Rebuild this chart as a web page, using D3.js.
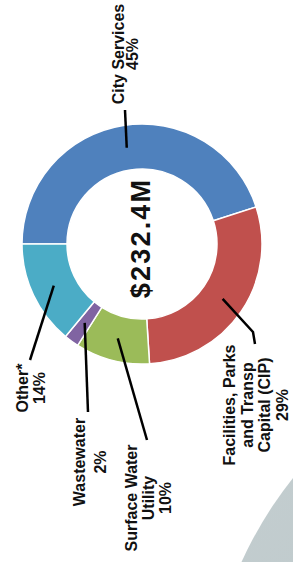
<!DOCTYPE html>
<html>
<head>
<meta charset="utf-8">
<script src="https://cdn.jsdelivr.net/npm/d3@7"></script>
<style>
  html, body { margin: 0; padding: 0; background: #ffffff; }
  svg { display: block; }
</style>
</head>
<body>
<div id="chart"></div>
<script>
// ---- data ----
const categories = ["City Services", "Facilities, Parks and Transp Capital (CIP)", "Surface Water Utility", "Wastewater", "Other*"];
const values = [45, 29, 10, 2, 14];
const nameLines = [["City Services"], ["Facilities, Parks", "and Transp", "Capital (CIP)"], ["Surface Water", "Utility"], ["Wastewater"], ["Other*"]];
const colors = ["#4f81bd", "#c0504d", "#9bbb59", "#8064a2", "#4bacc6"];
const totalLabel = "$232.4M";

// ---- layout ----
const W = 293, H = 562;
const cx = 142, cy = 244, R = 120, r0 = 75;

// label placement (relative to donut centre, screen coords)
const labelLayout = [
  { leader: [[-17, -134]], tx: -18, ty: -190, gap: 14 },
  { leader: [[111, 88], [113, 100]], tx: 93, ty: 161, gap: 17.7 },
  { leader: [[5, 196]], tx: -5, ty: 254, gap: 17 },
  { leader: [[-54, 168]], tx: -57, ty: 218, gap: 21 },
  { leader: [[-112, 116]], tx: -114, ty: 144, gap: 17 }
];

const svg = d3.select("#chart").append("svg")
  .attr("width", W).attr("height", H)
  .attr("viewBox", `0 0 ${W} ${H}`);

// background decoration
const defs = svg.append("defs");
const g1 = defs.append("linearGradient").attr("id", "bgGrad")
  .attr("x1", "0").attr("y1", "0").attr("x2", "1").attr("y2", "1");
g1.append("stop").attr("offset", "0").attr("stop-color", "#c5cfd1");
g1.append("stop").attr("offset", "1").attr("stop-color", "#b1bec0");
const g2 = defs.append("linearGradient").attr("id", "bgGrad2")
  .attr("x1", "0").attr("y1", "0").attr("x2", "1").attr("y2", "0");
g2.append("stop").attr("offset", "0").attr("stop-color", "#dde3e4");
g2.append("stop").attr("offset", "1").attr("stop-color", "#b8c3c5");

svg.append("circle").attr("cx", 610).attr("cy", 730).attr("r", 405)
  .attr("fill", "url(#bgGrad)");
svg.append("circle").attr("cx", 420).attr("cy", -120).attr("r", 172)
  .attr("fill", "url(#bgGrad2)");

const g = svg.append("g").attr("transform", `translate(${cx},${cy})`);

const pie = d3.pie().sort(null).value(d => d)
  .startAngle(-Math.PI / 2).endAngle(1.5 * Math.PI);
const arc = d3.arc().innerRadius(r0).outerRadius(R);
const arcs = pie(values);

g.selectAll("path.slice").data(arcs).join("path")
  .attr("class", "slice")
  .attr("d", arc)
  .attr("fill", (d, i) => colors[i])
  .attr("stroke", "#ffffff")
  .attr("stroke-width", 1.5);

// leader lines
const line = d3.line();
g.selectAll("path.leader").data(arcs).join("path")
  .attr("class", "leader")
  .attr("d", (d, i) => line([arc.centroid(d), ...labelLayout[i].leader]))
  .attr("fill", "none")
  .attr("stroke", "#000")
  .attr("stroke-width", 2.5);

// labels (rotated)
const labels = g.selectAll("text.lbl").data(arcs).join("text")
  .attr("class", "lbl")
  .attr("transform", (d, i) => `translate(${labelLayout[i].tx},${labelLayout[i].ty}) rotate(-90)`)
  .attr("text-anchor", "middle")
  .attr("font-family", "'Liberation Sans', Arial, sans-serif")
  .attr("font-weight", "bold")
  .attr("font-size", 16)
  .attr("fill", "#111");

labels.each(function (d, i) {
  const t = d3.select(this);
  const lines = [...nameLines[i], `${values[i]}%`];
  lines.forEach((s, k) => {
    t.append("tspan").attr("x", 0).attr("dy", k === 0 ? 0 : labelLayout[i].gap).text(s);
  });
});

// centre total
g.append("text")
  .attr("transform", `translate(8,-6) rotate(-90)`)
  .attr("text-anchor", "middle")
  .attr("font-family", "'Liberation Sans', Arial, sans-serif")
  .attr("font-weight", "bold")
  .attr("font-size", 27)
  .attr("letter-spacing", 2.2)
  .attr("fill", "#111")
  .text(totalLabel);
</script>
</body>
</html>
